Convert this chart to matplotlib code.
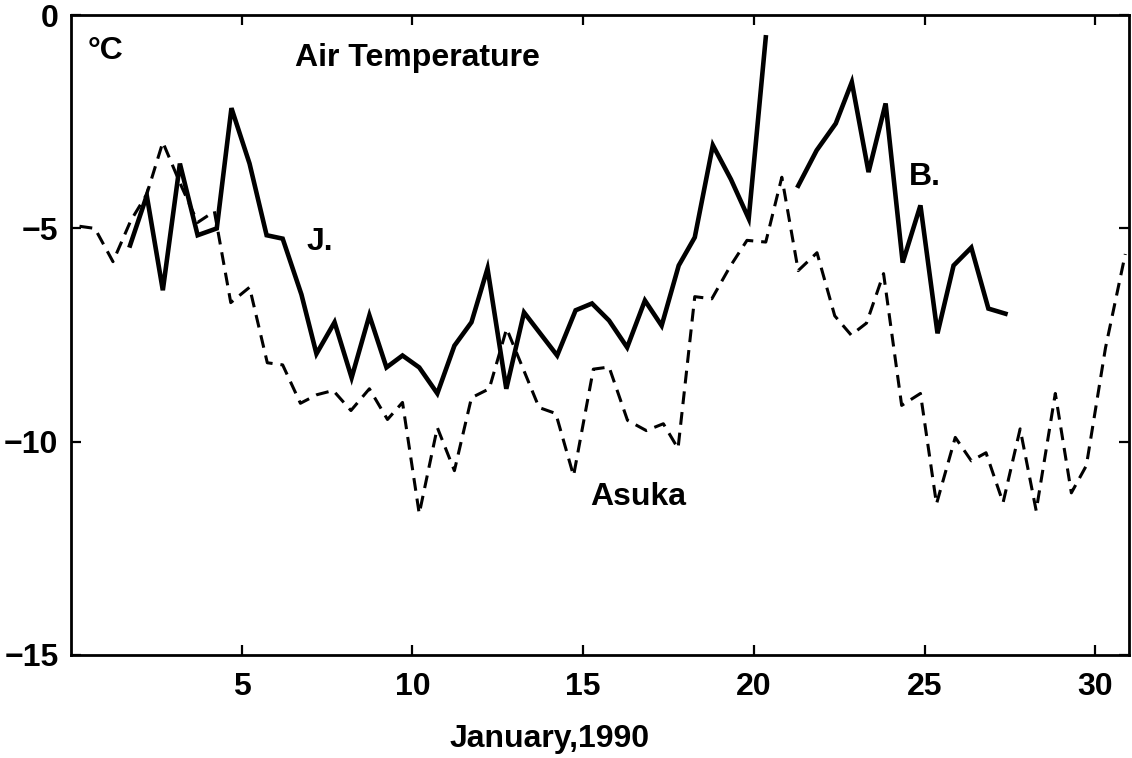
import numpy as np
import matplotlib.pyplot as plt

plt.rcParams['font.family'] = ['Liberation Sans', 'DejaVu Sans']
plt.rcParams['font.weight'] = 'bold'

# J. station (solid); gap between the two records
j_day = [1.73, 2.22, 2.69, 3.19, 3.71, 4.27, 4.70, 5.23, 5.73, 6.20, 6.75, 7.19,
         7.72, 8.22, 8.74, 9.24, 9.71, 10.20, 10.73, 11.23, 11.73, 12.20, 12.75,
         13.27, 14.24, 14.78, 15.26, 15.76, 16.29, 16.81, 17.30, 17.80, 18.27,
         18.80, 19.33, 19.85, 20.35]
j_temp = [-5.40, -4.23, -6.45, -3.48, -5.16, -5.00, -2.18, -3.48, -5.16, -5.24,
          -6.55, -7.94, -7.20, -8.50, -7.04, -8.26, -7.98, -8.26, -8.87, -7.75,
          -7.20, -5.94, -8.76, -6.97, -7.98, -6.92, -6.76, -7.16, -7.79, -6.69,
          -7.28, -5.87, -5.21, -3.05, -3.85, -4.77, -0.52]

# B. station (solid)
b_day = [21.30, 21.84, 22.40, 22.87, 23.36, 23.86, 24.36, 24.88, 25.38, 25.85,
         26.37, 26.87, 27.37]
b_temp = [-4.00, -3.17, -2.54, -1.57, -3.68, -2.07, -5.80, -4.46, -7.46, -5.87,
          -5.45, -6.88, -7.00]

# Asuka (dashed)
a_day = [0.25, 0.70, 1.23, 1.75, 2.22, 2.69, 3.20, 3.71, 4.20, 4.68, 5.23, 5.75,
         6.20, 6.72, 7.20, 7.68, 8.20, 8.74, 9.27, 9.71, 10.20, 10.73, 11.23,
         11.73, 12.25, 12.76, 13.71, 14.20, 14.72, 15.30, 15.76, 16.30, 16.85,
         17.35, 17.78, 18.27, 18.77, 19.30, 19.80, 20.35, 20.82, 21.30, 21.85,
         22.37, 22.85, 23.30, 23.80, 24.33, 24.88, 25.35, 25.90, 26.37, 26.80,
         27.30, 27.80, 28.27, 28.83, 29.30, 29.74, 30.30, 30.88]
a_temp = [-4.95, -5.00, -5.78, -4.82, -4.20, -2.98, -3.95, -4.86, -4.60, -6.74,
          -6.38, -8.15, -8.20, -9.10, -8.90, -8.80, -9.27, -8.76, -9.48, -9.08,
          -11.69, -9.67, -10.68, -8.97, -8.76, -7.35, -9.20, -9.34, -10.80, -8.30,
          -8.25, -9.50, -9.74, -9.58, -10.16, -6.60, -6.65, -5.90, -5.28, -5.32,
          -3.80, -5.99, -5.57, -7.05, -7.50, -7.22, -6.06, -9.15, -8.87, -11.46,
          -9.90, -10.45, -10.26, -11.43, -9.70, -11.62, -8.87, -11.20, -10.56,
          -7.80, -5.60]

x_ticks = [5, 10, 15, 20, 25, 30]
y_ticks = [0, -5, -10, -15]

fig = plt.figure(figsize=(11.32, 7.58), dpi=100)
ax = fig.add_axes([0.0627, 0.136, 0.935, 0.844])

ax.plot(j_day, j_temp, color='black', linewidth=3.3, solid_joinstyle='miter')
ax.plot(b_day, b_temp, color='black', linewidth=3.3, solid_joinstyle='miter')
ax.plot(a_day, a_temp, color='black', linewidth=2.2, dashes=(4.2, 2.6))

ax.set_xlim(0, 31)
ax.set_ylim(-15, 0)
ax.set_xticks(x_ticks)
ax.set_yticks(y_ticks)
ax.tick_params(direction='in', top=True, right=True, length=7, width=1.6,
               labelsize=23, pad=9)
ax.tick_params(axis='x', pad=12)
for s in ax.spines.values():
    s.set_linewidth(2.0)

ax.set_xlabel('January,1990', fontsize=23, fontweight='bold')
ax.xaxis.set_label_coords(0.452, -0.108)

ax.text(1.0, -0.85, '°C', fontsize=23, ha='center', va='center')
ax.text(10.15, -1.0, 'Air Temperature', fontsize=23, ha='center', va='center')
ax.text(7.3, -5.33, 'J.', fontsize=23, ha='center', va='center')
ax.text(25.0, -3.8, 'B.', fontsize=23, ha='center', va='center')
ax.text(16.6, -11.3, 'Asuka', fontsize=23, ha='center', va='center')

fig.savefig('out.png', dpi=100)
